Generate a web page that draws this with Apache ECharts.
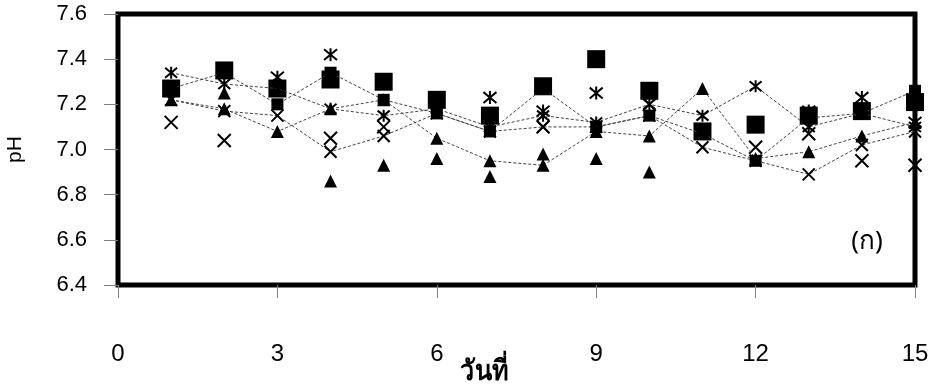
<!DOCTYPE html>
<html>
<head>
<meta charset="utf-8">
<script src="https://cdn.jsdelivr.net/npm/echarts@6/dist/echarts.min.js"></script>
<style>
  html, body { margin: 0; padding: 0; background: #fff; }
  #chart { width: 929px; height: 390px; }
</style>
</head>
<body>
<div id="chart"></div>
<script>
// days on the x axis
const days = [1, 2, 3, 4, 5, 6, 7, 8, 9, 10, 11, 12, 13, 14, 15];
const xTicks = [0, 3, 6, 9, 12, 15];
const yTicks = [6.4, 6.6, 6.8, 7.0, 7.2, 7.4, 7.6];

// dashed-line series
const lineSquare = [7.27, 7.34, 7.20, 7.34, 7.22, 7.16, 7.08, 7.27, 7.10, 7.15, 7.07, 6.95, 7.14, 7.16, 7.26];
const lineStar = [7.34, 7.29, 7.27, 7.18, 7.15, 7.18, 7.10, 7.15, 7.12, 7.20, 7.15, 7.28, 7.10, 7.16, 7.10];
const lineTriangle = [7.22, 7.18, 7.08, 7.18, 7.22, 7.05, 6.95, 6.93, 7.08, 7.06, 7.27, 6.96, 6.99, 7.06, 7.12];
const lineCross = [7.22, 7.17, 7.15, 6.99, 7.06, 7.16, 7.08, 7.10, 7.10, 7.15, 7.01, 6.95, 6.89, 7.02, 7.08];

// marker-only points
const bigSquare = [7.27, 7.35, 7.27, 7.31, 7.30, 7.22, 7.15, 7.28, 7.40, 7.26, 7.08, 7.11, 7.15, 7.17, 7.21];
const ptTriangle = [null, 7.25, null, 6.86, 6.93, 6.96, 6.88, 6.98, 6.96, 6.90, null, null, null, null, null];
const ptCross = [7.12, 7.04, null, 7.05, 7.10, null, null, 7.10, null, 7.20, null, 7.01, 7.07, 6.95, 6.93];
const ptStar = [null, null, 7.32, 7.42, null, null, 7.23, 7.17, 7.25, null, null, null, 7.17, 7.23, 7.12];

const crossPath = 'path://M0,0L10,10M10,0L0,10';
const starPath = 'path://M0,0L10,10M10,0L0,10M5,-1L5,11';

const pairs = arr => days.map((d, i) => [d, arr[i]]);

function markStyle(stroke) {
  return stroke
    ? { color: 'rgba(0,0,0,0)', borderColor: '#000', borderWidth: 2, opacity: 1 }
    : { color: '#000', borderWidth: 0, opacity: 1 };
}

function lineSeries(data, symbol, size, stroke) {
  return {
    type: 'line',
    data: pairs(data),
    symbol: symbol,
    symbolSize: size,
    lineStyle: { color: '#444', width: 1, type: [3, 2] },
    itemStyle: markStyle(stroke),
    emphasis: { disabled: true },
    animation: false
  };
}

function pointSeries(data, symbol, size, stroke) {
  return {
    type: 'scatter',
    data: pairs(data).filter(p => p[1] != null),
    symbol: symbol,
    symbolSize: size,
    itemStyle: markStyle(stroke),
    emphasis: { disabled: true },
    animation: false
  };
}

const chart = echarts.init(document.getElementById('chart'));
chart.setOption({
  backgroundColor: '#fff',
  animation: false,
  grid: {
    left: 118, right: 14, top: 14, bottom: 105,
    outerBoundsMode: 'none',
    containLabel: false,
    show: true, borderColor: '#000', borderWidth: 5
  },
  xAxis: {
    type: 'value',
    min: xTicks[0], max: xTicks[xTicks.length - 1], interval: 3,
    axisLine: { show: false },
    axisTick: { show: true, inside: false, length: 13, lineStyle: { color: '#808080', width: 1 } },
    splitLine: { show: false },
    axisLabel: {
      margin: 57, color: '#000', fontSize: 24,
      fontFamily: '"Liberation Sans Narrow", "Liberation Sans", sans-serif'
    }
  },
  yAxis: {
    type: 'value',
    min: yTicks[0], max: yTicks[yTicks.length - 1], interval: 0.2,
    axisLine: { show: false },
    axisTick: { show: true, length: 14, lineStyle: { color: '#808080', width: 1 } },
    splitLine: { show: false },
    axisLabel: {
      margin: 31, color: '#000', fontSize: 22,
      fontFamily: 'Arial, "Liberation Sans", sans-serif',
      formatter: v => v.toFixed(1)
    },
    name: 'pH',
    nameLocation: 'middle',
    nameRotate: 90,
    nameGap: 92,
    nameTextStyle: { color: '#000', fontSize: 21, fontFamily: 'Arial, "Liberation Sans", sans-serif' }
  },
  graphic: [
    {
      type: 'text', x: 484, y: 372, scaleX: 0.9,
      style: {
        text: 'วันที่', fill: '#000', fontSize: 28, fontWeight: 'bold',
        fontFamily: '"Noto Sans", "DejaVu Sans", sans-serif',
        align: 'center', verticalAlign: 'middle'
      }
    },
    {
      type: 'text', x: 867, y: 242,
      style: {
        text: '(ก)', fill: '#000', fontSize: 26,
        fontFamily: '"Noto Sans", "DejaVu Sans", sans-serif',
        align: 'center', verticalAlign: 'middle'
      }
    }
  ],
  series: [
    lineSeries(lineSquare, 'rect', 12, false),
    lineSeries(lineStar, starPath, 12, true),
    lineSeries(lineTriangle, 'triangle', 13, false),
    lineSeries(lineCross, crossPath, 12, true),
    pointSeries(bigSquare, 'rect', 18, false),
    pointSeries(ptTriangle, 'triangle', 13, false),
    pointSeries(ptCross, crossPath, 13, true),
    pointSeries(ptStar, starPath, 13, true)
  ]
});
</script>
</body>
</html>
